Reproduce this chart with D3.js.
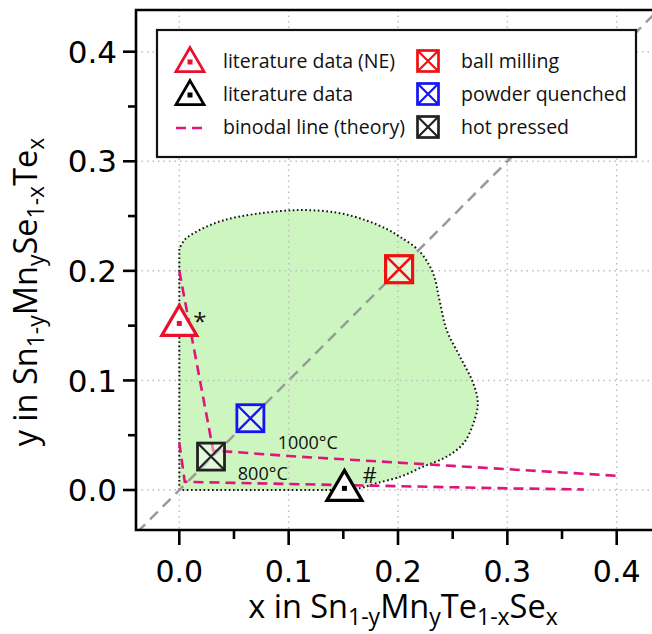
<!DOCTYPE html>
<html><head><meta charset="utf-8">
<script src="https://cdn.jsdelivr.net/npm/d3@7/dist/d3.min.js"></script>
<style>body{margin:0;background:#fff}svg{display:block}</style>
</head><body><svg id="c" width="652" height="634"></svg>
<script>
// ---------- data ----------
const majorTicks = [0.0, 0.1, 0.2, 0.3, 0.4];
const minorTicks = [0.05, 0.15, 0.25, 0.35];
const tickLabels = ["0.0", "0.1", "0.2", "0.3", "0.4"];

// miscibility-gap region (curved outline part, x,y)
const regionX = [0, 0.005, 0.02, 0.04, 0.07, 0.11, 0.145, 0.171, 0.19, 0.202, 0.220, 0.232, 0.238, 0.2445, 0.2567, 0.269, 0.273, 0.269, 0.26, 0.2445, 0.223, 0.202, 0.18, 0.165, 0.15];
const regionY = [0.22, 0.2285, 0.238, 0.246, 0.252, 0.2555, 0.253, 0.246, 0.238, 0.231, 0.2175, 0.198, 0.173, 0.146, 0.1216, 0.097, 0.079, 0.061, 0.0426, 0.0304, 0.0213, 0.0121, 0.0061, 0.0016, 0];

// binodal lines (theory)
const bin1000X = [0, 0.031, 0.06, 0.1, 0.15, 0.2, 0.25, 0.3, 0.35, 0.4];
const bin1000Y = [0.2, 0.036, 0.034, 0.031, 0.028, 0.025, 0.022, 0.019, 0.016, 0.013];
const bin800X = [0, 0.005, 0.05, 0.1, 0.15, 0.2, 0.25, 0.3, 0.37];
const bin800Y = [0.043, 0.0075, 0.0065, 0.0055, 0.0045, 0.0035, 0.0025, 0.0015, 0.0005];

// samples
const litNE = {x: 0.0, y: 0.152, note: "*"};
const lit = {x: 0.151, y: 0.0015, note: "#"};
const ballMilling = {x: 0.201, y: 0.2015};
const powderQuenched = {x: 0.065, y: 0.0655};
const hotPressed = {x: 0.029, y: 0.0305};

const legendLeft = ["literature data (NE)", "literature data", "binodal line (theory)"];
const legendRight = ["ball milling", "powder quenched", "hot pressed"];

// ---------- drawing ----------
const svg = d3.select("#c");
const x = d3.scaleLinear().domain([0, 0.4]).range([179.3, 616.7]);
const y = d3.scaleLinear().domain([0, 0.4]).range([490, 51.7]);
const L = 136, R = 652, T = 10, B = 530;

const RED = "#e8102c", RED2 = "#f01010", BLUE = "#1414f5", DARK = "#222", MAG = "#e0147c";

svg.append("defs").append("clipPath").attr("id", "pc")
  .append("rect").attr("x", L).attr("y", T).attr("width", R - L).attr("height", B - T);
const g = svg.append("g").attr("clip-path", "url(#pc)");

// region path
const curveGen = d3.line().x(d => x(d[0])).y(d => y(d[1])).curve(d3.curveCatmullRom.alpha(0.5));
const regPts = regionX.map((v, i) => [v, regionY[i]]);
const cp = curveGen(regPts);
const regionPath = `M${x(0)},${y(0)}L` + cp.slice(1) + "Z";
g.append("path").attr("d", regionPath).attr("fill", "#ccf5c0").attr("stroke", "none");

// gridlines
majorTicks.forEach(t => {
  g.append("line").attr("x1", x(t)).attr("x2", x(t)).attr("y1", T).attr("y2", B)
    .attr("stroke", "#bdbdbd").attr("stroke-width", 1.5).attr("stroke-dasharray", "1.5,4");
  g.append("line").attr("y1", y(t)).attr("y2", y(t)).attr("x1", L).attr("x2", R)
    .attr("stroke", "#bdbdbd").attr("stroke-width", 1.5).attr("stroke-dasharray", "1.5,4");
});

// region outline (dotted)
g.append("path").attr("d", regionPath).attr("fill", "none").attr("stroke", "#111")
  .attr("stroke-width", 2).attr("stroke-dasharray", "1.6,2.6");

// diagonal y = x
g.append("line").attr("x1", x(-0.05)).attr("y1", y(-0.05)).attr("x2", x(0.45)).attr("y2", y(0.45))
  .attr("stroke", "#9a9a9a").attr("stroke-width", 2.5).attr("stroke-dasharray", "11,7");

// binodal lines
const lin = d3.line().x(d => x(d[0])).y(d => y(d[1]));
[[bin1000X, bin1000Y], [bin800X, bin800Y]].forEach(([bx, by]) => {
  g.append("path").attr("d", lin(bx.map((v, i) => [v, by[i]])))
    .attr("fill", "none").attr("stroke", MAG).attr("stroke-width", 2.6).attr("stroke-dasharray", "10,6");
});

// temperature labels
g.append("text").attr("x", x(0.09)).attr("y", y(0.037)).text("1000°C")
  .attr("font-family", "Open Sans").attr("font-size", 18).attr("fill", "#111");
g.append("text").attr("x", x(0.0535)).attr("y", y(0.009)).text("800°C")
  .attr("font-family", "Open Sans").attr("font-size", 18).attr("fill", "#111");

// markers
function triangle(sel, cx, cy, color, w, h, sw) {
  const top = cy - h * 0.6, bot = cy + h * 0.4;
  sel.append("path").attr("d", `M${cx},${top}L${cx + w / 2},${bot}L${cx - w / 2},${bot}Z`)
    .attr("fill", "#fff").attr("stroke", color).attr("stroke-width", sw).attr("stroke-linejoin", "miter");
  sel.append("rect").attr("x", cx - 2.5).attr("y", cy - 2.5).attr("width", 5).attr("height", 5).attr("fill", color);
}
function xsquare(sel, cx, cy, color, s, sw) {
  const h = s / 2;
  sel.append("rect").attr("x", cx - h).attr("y", cy - h).attr("width", s).attr("height", s)
    .attr("fill", "rgba(255,255,255,0.45)").attr("stroke", color).attr("stroke-width", sw);
  sel.append("path").attr("d", `M${cx - h},${cy - h}L${cx + h},${cy + h}M${cx + h},${cy - h}L${cx - h},${cy + h}`)
    .attr("stroke", color).attr("stroke-width", sw * 0.8);
}
triangle(g, x(litNE.x), y(litNE.y), RED, 35, 30, 3.2);
triangle(g, x(lit.x), y(lit.y), "#000", 35, 30, 3.2);
xsquare(g, x(ballMilling.x), y(ballMilling.y), RED2, 27, 3.2);
xsquare(g, x(powderQuenched.x), y(powderQuenched.y), BLUE, 27, 2.8);
xsquare(g, x(hotPressed.x), y(hotPressed.y), DARK, 27, 2.8);

g.append("text").attr("x", x(litNE.x) + 14).attr("y", y(litNE.y) + 7).text(litNE.note)
  .attr("font-family", "Open Sans").attr("font-size", 24).attr("fill", "#111");
g.append("text").attr("x", x(lit.x) + 18).attr("y", y(lit.y) - 5).text(lit.note)
  .attr("font-family", "Open Sans").attr("font-size", 22).attr("fill", "#111");

// axes frame
svg.append("path").attr("d", `M${R},${T}L${L},${T}L${L},${B}L${R},${B}`)
  .attr("fill", "none").attr("stroke", "#000").attr("stroke-width", 2.6);

// ticks
majorTicks.forEach((t, i) => {
  svg.append("line").attr("x1", L - 13).attr("x2", L).attr("y1", y(t)).attr("y2", y(t)).attr("stroke", "#000").attr("stroke-width", 2.6);
  svg.append("line").attr("y1", B).attr("y2", B + 15).attr("x1", x(t)).attr("x2", x(t)).attr("stroke", "#000").attr("stroke-width", 2.6);
  svg.append("text").attr("x", 117).attr("y", y(t)).attr("dy", "0.36em").attr("text-anchor", "end")
    .attr("font-family", "DejaVu Sans").attr("font-size", 31).text(tickLabels[i]);
  svg.append("text").attr("x", x(t)).attr("y", 582).attr("text-anchor", "middle")
    .attr("font-family", "DejaVu Sans").attr("font-size", 30).text(tickLabels[i]);
});
minorTicks.forEach(t => {
  svg.append("line").attr("x1", L - 8).attr("x2", L).attr("y1", y(t)).attr("y2", y(t)).attr("stroke", "#000").attr("stroke-width", 2.6);
  svg.append("line").attr("y1", B).attr("y2", B + 9).attr("x1", x(t)).attr("x2", x(t)).attr("stroke", "#000").attr("stroke-width", 2.6);
});

// axis titles (subscripts as smaller, lowered tspans)
function drawTitle(t, parts) {
  let down = false;
  parts.forEach(([s, sub]) => {
    const dy = sub && !down ? 7 : (!sub && down ? -7 : 0);
    t.append("tspan").text(s).attr("font-size", sub ? 23 : 32.5).attr("dy", dy);
    down = sub;
  });
}
const xt = svg.append("text").attr("x", 403).attr("y", 618).attr("text-anchor", "middle")
  .attr("font-family", "Open Sans").attr("fill", "#000");
drawTitle(xt, [["x in Sn", false], ["1-y", true], ["Mn", false], ["y", true], ["Te", false], ["1-x", true], ["Se", false], ["x", true]]);
const yt = svg.append("text").attr("transform", "translate(37,292) rotate(-90)").attr("text-anchor", "middle")
  .attr("font-family", "Open Sans").attr("fill", "#000");
drawTitle(yt, [["y in Sn", false], ["1-y", true], ["Mn", false], ["y", true], ["Se", false], ["1-x", true], ["Te", false], ["x", true]]);

// legend
const lg = svg.append("g");
lg.append("rect").attr("x", 157).attr("y", 30).attr("width", 479).attr("height", 127)
  .attr("fill", "#fff").attr("stroke", "#111").attr("stroke-width", 2.2);
const rowsY = [61, 94, 127];
triangle(lg, 190, rowsY[0] + 1, RED, 28, 24, 2.8);
triangle(lg, 190, rowsY[1] + 1, "#000", 28, 24, 2.8);
lg.append("line").attr("x1", 176).attr("x2", 205).attr("y1", rowsY[2] + 1).attr("y2", rowsY[2] + 1)
  .attr("stroke", MAG).attr("stroke-width", 2.6).attr("stroke-dasharray", "10,6");
xsquare(lg, 428, rowsY[0], RED2, 21, 2.7);
xsquare(lg, 428, rowsY[1], BLUE, 21, 2.7);
xsquare(lg, 428, rowsY[2], DARK, 21, 2.7);
legendLeft.forEach((s, i) => lg.append("text").attr("x", 223).attr("y", rowsY[i] + 7).text(s)
  .attr("font-family", "Open Sans").attr("font-size", 19.5).attr("fill", "#111"));
legendRight.forEach((s, i) => lg.append("text").attr("x", 461).attr("y", rowsY[i] + 7).text(s)
  .attr("font-family", "Open Sans").attr("font-size", 19.5).attr("fill", "#111"));
</script></body></html>
